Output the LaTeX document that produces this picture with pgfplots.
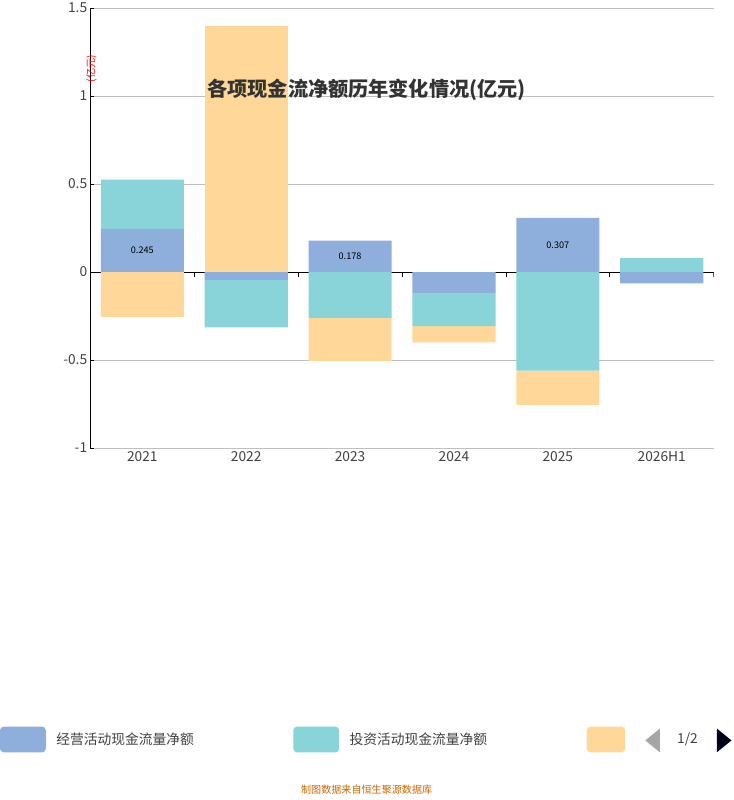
\documentclass[border=0pt]{standalone}
\usepackage{pgfplots}
\pgfplotsset{compat=1.18}
\usepackage{fontspec}
\setmainfont{Noto Sans CJK SC}
\definecolor{cop}{HTML}{8EAEDB}
\definecolor{cinv}{HTML}{88D4D8}
\definecolor{cfin}{HTML}{FFD899}
\begin{document}
\begin{tikzpicture}[x=1pt,y=1pt]
\path (0,0) rectangle (800,800);
\pgfplotsset{base/.style={at={(87,200)},anchor=south west,scale only axis,width=680pt,height=480pt,
 xmin=-0.5,xmax=5.5,ymin=-1,ymax=1.5,ybar stacked,bar width=0.8,
 /pgf/number format/assume math mode=true}}
\begin{axis}[base,
 ytick={-1,-0.5,0,0.5,1,1.5},yticklabels={-1,-0.5,0,0.5,1,1.5},
 ymajorgrids,grid style={gray!50,line width=0.8pt},
 xtick={0,...,5},xticklabels={2021,2022,2023,2024,2025,2026H1},
 x axis line style={draw=none},xtick style={draw=none},
 axis y line*=left,y axis line style={black,line width=0.8pt},ytick style={black},
 tick label style={font=\fontsize{15}{15}\selectfont,text=black!75},
 ylabel={\color{red}\fontsize{11}{11}\selectfont (亿元)},
 ylabel style={at={(axis description cs:0,1)},anchor=north east,rotate=0,xshift=-48pt,yshift=8pt},
 every axis plot/.append style={draw=none}]
\addplot[fill=cop] coordinates {(0,0.245)(1,0)(2,0.178)(3,0)(4,0.307)(5,0)};
\addplot[fill=cinv] coordinates {(0,0.28)(1,0)(2,0)(3,0)(4,0)(5,0.08)};
\addplot[fill=cfin] coordinates {(0,0)(1,1.40)(2,0)(3,0)(4,0)(5,0)};
\end{axis}
\begin{axis}[base,axis lines=none,every axis plot/.append style={draw=none},
 every node/.style={font=\fontsize{17}{17}\selectfont,text=black}]
\addplot[fill=cop] coordinates {(0,0)(1,-0.044)(2,0)(3,-0.123)(4,0)(5,-0.065)};
\addplot[fill=cinv] coordinates {(0,0)(1,-0.27)(2,-0.26)(3,-0.185)(4,-0.56)(5,0)};
\addplot[fill=cfin] coordinates {(0,-0.255)(1,0)(2,-0.245)(3,-0.092)(4,-0.195)(5,0)};
\draw[black,line width=0.8pt] (axis cs:-0.5,0) -- (axis cs:5.5,0);
\draw[black,line width=0.8pt] (axis cs:-0.5,0) -- (axis cs:-0.5,-0.026);
\draw[black,line width=0.8pt] (axis cs:0.5,0) -- (axis cs:0.5,-0.026);
\draw[black,line width=0.8pt] (axis cs:1.5,0) -- (axis cs:1.5,-0.026);
\draw[black,line width=0.8pt] (axis cs:2.5,0) -- (axis cs:2.5,-0.026);
\draw[black,line width=0.8pt] (axis cs:3.5,0) -- (axis cs:3.5,-0.026);
\draw[black,line width=0.8pt] (axis cs:4.5,0) -- (axis cs:4.5,-0.026);
\draw[black,line width=0.8pt] (axis cs:5.5,0) -- (axis cs:5.5,-0.026);
\node at (axis cs:0,0.1225) {0.245};
\node at (axis cs:1,-0.022) {-0.044};
\node at (axis cs:2,0.089) {0.178};
\node at (axis cs:3,-0.0615) {-0.123};
\node at (axis cs:4,0.1535) {0.307};
\node at (axis cs:5,-0.0325) {-0.065};
\end{axis}
\node[font=\bfseries\fontsize{22}{22}\selectfont,text=black!80] at (400,775) {各项现金流净额历年变化情况(亿元)};
\fill[cop,rounded corners=4pt] (0,52) rectangle (50,80);
\node[anchor=west,font=\fontsize{15}{15}\selectfont,text=black!75] at (58,66) {经营活动现金流量净额};
\fill[cinv,rounded corners=4pt] (320,52) rectangle (370,80);
\node[anchor=west,font=\fontsize{15}{15}\selectfont,text=black!75] at (378,66) {投资活动现金流量净额};
\fill[cfin,rounded corners=4pt] (640,52) rectangle (682,80);
\fill[gray!70] (720,78) -- (720,52) -- (704,65) -- cycle;
\node[font=\fontsize{15}{15}\selectfont,text=black!75] at (750,66) {1/2};
\fill[black!75!blue!40!black] (782,78) -- (782,52) -- (798,65) -- cycle;
\node[font=\fontsize{11}{11}\selectfont,text=orange!80!black] at (400,11) {制图数据来自恒生聚源数据库};
\end{tikzpicture}
\end{document}
